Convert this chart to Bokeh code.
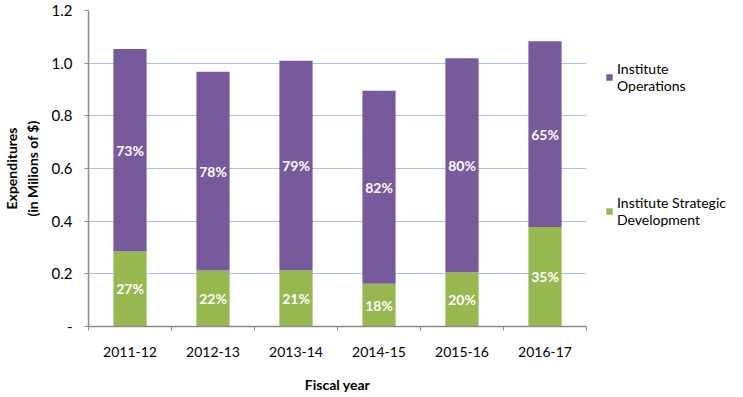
from bokeh.plotting import figure
from bokeh.layouts import row
from bokeh.models import (ColumnDataSource, FixedTicker, Legend, LegendItem, Range1d)
from bokeh.core.properties import value
from bokeh.embed import file_html
from bokeh.resources import INLINE

years = ["2011-12", "2012-13", "2013-14", "2014-15", "2015-16", "2016-17"]
strategic = [0.286, 0.213, 0.214, 0.162, 0.206, 0.378]
operations = [0.768, 0.754, 0.795, 0.733, 0.813, 0.705]
pct_strategic = [27, 22, 21, 18, 20, 35]
pct_operations = [73, 78, 79, 82, 80, 65]
y_ticks = [0, 0.2, 0.4, 0.6, 0.8, 1.0, 1.2]
y_tick_labels = ["-", "0.2", "0.4", "0.6", "0.8", "1.0", "1.2"]
series_names = ["Institute\nOperations", "Institute Strategic\nDevelopment"]

FONT = "Lato"
PURPLE = "#775A9C"
GREEN = "#97B84F"

xs = [i + 0.5 for i in range(len(years))]
totals = [s + o for s, o in zip(strategic, operations)]
src = ColumnDataSource(dict(
    x=xs, s=strategic, o=operations, t=totals,
    smid=[s / 2 for s in strategic],
    omid=[s + o / 2 for s, o in zip(strategic, operations)],
    stxt=[f"{v}%" for v in pct_strategic],
    otxt=[f"{v}%" for v in pct_operations],
))

p = figure(frame_width=498, frame_height=316, output_backend="svg", toolbar_location=None,
           x_range=Range1d(0, len(years)), y_range=Range1d(0, 1.2),
           min_border_left=81, min_border_right=2, min_border_top=10, min_border_bottom=55)
p.outline_line_color = None
p.background_fill_color = "white"

r_s = p.vbar(x="x", bottom=0, top="s", width=0.4, source=src, fill_color=GREEN, line_color=None)
r_o = p.vbar(x="x", bottom="s", top="t", width=0.4, source=src, fill_color=PURPLE, line_color=None)

for col_y, col_t in (("smid", "stxt"), ("omid", "otxt")):
    p.text(x="x", y=col_y, text=col_t, source=src, text_color="white",
           text_font=value(FONT), text_font_style="bold", text_font_size="14px",
           text_align="center", text_baseline="middle")

# grid
p.xgrid.grid_line_color = None
p.ygrid.grid_line_color = "#A9C2EA"
p.ygrid.grid_line_width = 1.2
p.ygrid.ticker = FixedTicker(ticks=y_ticks[1:])

# y axis
ya = p.yaxis[0]
ya.ticker = FixedTicker(ticks=y_ticks)
ya.major_label_overrides = {t: l for t, l in zip(y_ticks, y_tick_labels)}
ya.axis_line_color = "#8C8C8C"
ya.axis_line_width = 1.5
ya.major_tick_line_color = "#8C8C8C"
ya.major_tick_out = 4
ya.major_tick_in = 0
ya.minor_tick_line_color = None
ya.major_label_text_font = FONT
ya.major_label_text_font_size = "15px"
ya.major_label_text_color = "#000000"
ya.major_label_standoff = 12
ya.axis_label = "Expenditures\n(in Milions of $)"
ya.axis_label_text_font = FONT
ya.axis_label_text_font_style = "bold"
ya.axis_label_text_font_size = "14px"
ya.axis_label_text_color = "#000000"
ya.axis_label_standoff = 8

# x axis
xa = p.xaxis[0]
xa.ticker = FixedTicker(ticks=xs, minor_ticks=list(range(len(years) + 1)))
xa.major_label_overrides = {x: y for x, y in zip(xs, years)}
xa.axis_line_color = "#8C8C8C"
xa.axis_line_width = 1.5
xa.major_tick_line_color = None
xa.minor_tick_line_color = "#8C8C8C"
xa.minor_tick_out = 4
xa.minor_tick_in = 0
xa.major_label_text_font = FONT
xa.major_label_text_font_size = "14px"
xa.major_label_text_color = "#000000"
xa.major_label_standoff = 14
xa.axis_label = "Fiscal year"
xa.axis_label_text_font = FONT
xa.axis_label_text_font_style = "bold"
xa.axis_label_text_font_size = "14px"
xa.axis_label_text_color = "#000000"
xa.axis_label_standoff = 16

# legend panel (separate figure to the right of the plot area; its renderers are hidden)
lg = figure(width=146, height=381, output_backend="svg", toolbar_location=None,
            x_range=Range1d(0, 1), y_range=Range1d(0, 1),
            min_border=0)
lg.axis.visible = False
lg.grid.visible = False
lg.outline_line_color = None
lr_o = lg.vbar(x="x", bottom="s", top="t", width=0.4, source=src, fill_color=PURPLE, line_color=None)
lr_s = lg.vbar(x="x", bottom=0, top="s", width=0.4, source=src, fill_color=GREEN, line_color=None)
lr_o.visible = False
lr_s.visible = False
legend = Legend(items=[LegendItem(label=series_names[0], renderers=[lr_o]),
                       LegendItem(label=series_names[1], renderers=[lr_s])],
                location=(17, 84))
legend.border_line_color = None
legend.background_fill_alpha = 0
legend.inactive_fill_alpha = 0
legend.label_text_font = FONT
legend.label_text_font_size = "14px"
legend.label_text_color = "#000000"
legend.glyph_width = 8
legend.glyph_height = 8
legend.label_standoff = 4
legend.spacing = 100
legend.padding = 0
legend.margin = 0
lg.add_layout(legend, "center")

layout = row(p, lg, spacing=0)
open("out.html", "w").write(file_html(layout, INLINE))
